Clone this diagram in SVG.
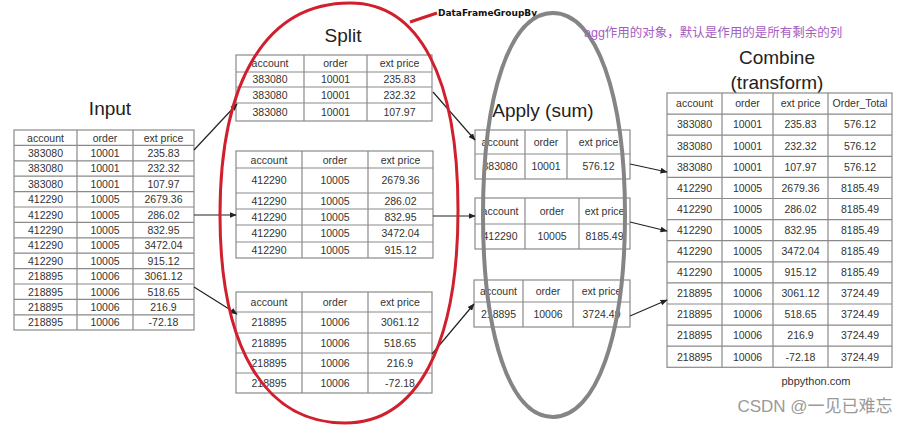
<svg xmlns="http://www.w3.org/2000/svg" width="914" height="425" viewBox="0 0 914 425">
<style>
.t{font-family:"Liberation Sans",Arial,sans-serif;font-size:10.5px;fill:#333;text-anchor:middle}
.h{font-family:"Liberation Sans",Arial,sans-serif;font-size:19px;fill:#222;text-anchor:middle}
.g{fill:#fff;stroke:#8a8a8a;stroke-width:1.2}
.l{stroke:#8a8a8a;stroke-width:1.2;fill:none}
.c{stroke:#222;stroke-width:1.2;fill:none;marker-end:url(#a)}
</style>
<defs>
<marker id="a" viewBox="0 0 10 10" refX="9" refY="5" markerWidth="6" markerHeight="6" orient="auto"><path d="M0,1 L10,5 L0,9 z" fill="#222"/></marker>
</defs>
<rect width="914" height="425" fill="#fff"/>

<g id="input">
<text class="h" x="110" y="115">Input</text>
<rect class="g" x="14" y="130" width="180" height="200"/>
<path class="l" d="M77,130V330M133,130V330M14,145.4H194M14,160.8H194M14,176.2H194M14,191.6H194M14,207H194M14,222.4H194M14,237.8H194M14,253.2H194M14,268.6H194M14,284H194M14,299.4H194M14,314.8H194"/>
<g class="t">
<text x="45.5" y="141.5">account</text><text x="105" y="141.5">order</text><text x="163.5" y="141.5">ext price</text>
<text x="45.5" y="156.9">383080</text><text x="105" y="156.9">10001</text><text x="163.5" y="156.9">235.83</text>
<text x="45.5" y="172.3">383080</text><text x="105" y="172.3">10001</text><text x="163.5" y="172.3">232.32</text>
<text x="45.5" y="187.7">383080</text><text x="105" y="187.7">10001</text><text x="163.5" y="187.7">107.97</text>
<text x="45.5" y="203.1">412290</text><text x="105" y="203.1">10005</text><text x="163.5" y="203.1">2679.36</text>
<text x="45.5" y="218.5">412290</text><text x="105" y="218.5">10005</text><text x="163.5" y="218.5">286.02</text>
<text x="45.5" y="233.9">412290</text><text x="105" y="233.9">10005</text><text x="163.5" y="233.9">832.95</text>
<text x="45.5" y="249.3">412290</text><text x="105" y="249.3">10005</text><text x="163.5" y="249.3">3472.04</text>
<text x="45.5" y="264.7">412290</text><text x="105" y="264.7">10005</text><text x="163.5" y="264.7">915.12</text>
<text x="45.5" y="280.1">218895</text><text x="105" y="280.1">10006</text><text x="163.5" y="280.1">3061.12</text>
<text x="45.5" y="295.5">218895</text><text x="105" y="295.5">10006</text><text x="163.5" y="295.5">518.65</text>
<text x="45.5" y="310.9">218895</text><text x="105" y="310.9">10006</text><text x="163.5" y="310.9">216.9</text>
<text x="45.5" y="326.3">218895</text><text x="105" y="326.3">10006</text><text x="163.5" y="326.3">-72.18</text>
</g>
</g>

<g id="split">
<text class="h" x="343" y="42">Split</text>
<rect class="g" x="236" y="55" width="196" height="66"/>
<path class="l" d="M304,55V121M367,55V121M236,72H432M236,87H432M236,103H432"/>
<g class="t">
<text x="270" y="67">account</text><text x="335.5" y="67">order</text><text x="399.5" y="67">ext price</text>
<text x="270" y="83">383080</text><text x="335.5" y="83">10001</text><text x="399.5" y="83">235.83</text>
<text x="270" y="99">383080</text><text x="335.5" y="99">10001</text><text x="399.5" y="99">232.32</text>
<text x="270" y="116">383080</text><text x="335.5" y="116">10001</text><text x="399.5" y="116">107.97</text>
</g>
<rect class="g" x="236" y="151" width="197" height="107"/>
<path class="l" d="M302,151V258M368,151V258M236,168H433M236,193H433M236,209H433M236,225H433M236,242H433"/>
<g class="t">
<text x="269" y="163.5">account</text><text x="335" y="163.5">order</text><text x="400.5" y="163.5">ext price</text>
<text x="269" y="184">412290</text><text x="335" y="184">10005</text><text x="400.5" y="184">2679.36</text>
<text x="269" y="204.5">412290</text><text x="335" y="204.5">10005</text><text x="400.5" y="204.5">286.02</text>
<text x="269" y="220.5">412290</text><text x="335" y="220.5">10005</text><text x="400.5" y="220.5">832.95</text>
<text x="269" y="237">412290</text><text x="335" y="237">10005</text><text x="400.5" y="237">3472.04</text>
<text x="269" y="253.5">412290</text><text x="335" y="253.5">10005</text><text x="400.5" y="253.5">915.12</text>
</g>
<rect class="g" x="236" y="292" width="196" height="101"/>
<path class="l" d="M302,292V393M368,292V393M236,312H432M236,333H432M236,353H432M236,373H432"/>
<g class="t">
<text x="269" y="305.5">account</text><text x="335" y="305.5">order</text><text x="400" y="305.5">ext price</text>
<text x="269" y="326">218895</text><text x="335" y="326">10006</text><text x="400" y="326">3061.12</text>
<text x="269" y="346.5">218895</text><text x="335" y="346.5">10006</text><text x="400" y="346.5">518.65</text>
<text x="269" y="366.5">218895</text><text x="335" y="366.5">10006</text><text x="400" y="366.5">216.9</text>
<text x="269" y="386.5">218895</text><text x="335" y="386.5">10006</text><text x="400" y="386.5">-72.18</text>
</g>
</g>

<g id="apply">
<text class="h" x="543" y="117">Apply (sum)</text>
<rect class="g" x="475" y="130" width="155" height="49"/>
<path class="l" d="M525,130V179M567,130V179M475,154H630"/>
<g class="t">
<text x="500" y="146">account</text><text x="546" y="146">order</text><text x="598.5" y="146">ext price</text>
<text x="500" y="170">383080</text><text x="546" y="170">10001</text><text x="598.5" y="170">576.12</text>
</g>
<rect class="g" x="475" y="198" width="155" height="51"/>
<path class="l" d="M525,198V249M579,198V249M475,224H630"/>
<g class="t">
<text x="500" y="215">account</text><text x="552" y="215">order</text><text x="604.5" y="215">ext price</text>
<text x="500" y="240">412290</text><text x="552" y="240">10005</text><text x="604.5" y="240">8185.49</text>
</g>
<rect class="g" x="474" y="280" width="156" height="47"/>
<path class="l" d="M523,280V327M573,280V327M474,302H630"/>
<g class="t">
<text x="498.5" y="295">account</text><text x="548" y="295">order</text><text x="601.5" y="295">ext price</text>
<text x="498.5" y="318">218895</text><text x="548" y="318">10006</text><text x="601.5" y="318">3724.49</text>
</g>
</g>

<g id="combine">
<text class="h" x="777" y="64">Combine</text>
<text class="h" x="777" y="89">(transform)</text>
<rect class="g" x="667" y="93" width="225" height="274.3"/>
<path class="l" d="M722,93V367.3M773,93V367.3M828,93V367.3M667,114.1H892M667,135.2H892M667,156.3H892M667,177.4H892M667,198.5H892M667,219.6H892M667,240.7H892M667,261.8H892M667,282.9H892M667,304H892M667,325.1H892M667,346.2H892"/>
<g class="t">
<text x="694.5" y="107.3">account</text><text x="747.5" y="107.3">order</text><text x="800.5" y="107.3">ext price</text><text x="860" y="107.3">Order_Total</text>
<text x="694.5" y="128.4">383080</text><text x="747.5" y="128.4">10001</text><text x="800.5" y="128.4">235.83</text><text x="860" y="128.4">576.12</text>
<text x="694.5" y="149.5">383080</text><text x="747.5" y="149.5">10001</text><text x="800.5" y="149.5">232.32</text><text x="860" y="149.5">576.12</text>
<text x="694.5" y="170.6">383080</text><text x="747.5" y="170.6">10001</text><text x="800.5" y="170.6">107.97</text><text x="860" y="170.6">576.12</text>
<text x="694.5" y="191.7">412290</text><text x="747.5" y="191.7">10005</text><text x="800.5" y="191.7">2679.36</text><text x="860" y="191.7">8185.49</text>
<text x="694.5" y="212.8">412290</text><text x="747.5" y="212.8">10005</text><text x="800.5" y="212.8">286.02</text><text x="860" y="212.8">8185.49</text>
<text x="694.5" y="233.9">412290</text><text x="747.5" y="233.9">10005</text><text x="800.5" y="233.9">832.95</text><text x="860" y="233.9">8185.49</text>
<text x="694.5" y="255">412290</text><text x="747.5" y="255">10005</text><text x="800.5" y="255">3472.04</text><text x="860" y="255">8185.49</text>
<text x="694.5" y="276.1">412290</text><text x="747.5" y="276.1">10005</text><text x="800.5" y="276.1">915.12</text><text x="860" y="276.1">8185.49</text>
<text x="694.5" y="297.2">218895</text><text x="747.5" y="297.2">10006</text><text x="800.5" y="297.2">3061.12</text><text x="860" y="297.2">3724.49</text>
<text x="694.5" y="318.3">218895</text><text x="747.5" y="318.3">10006</text><text x="800.5" y="318.3">518.65</text><text x="860" y="318.3">3724.49</text>
<text x="694.5" y="339.4">218895</text><text x="747.5" y="339.4">10006</text><text x="800.5" y="339.4">216.9</text><text x="860" y="339.4">3724.49</text>
<text x="694.5" y="360.5">218895</text><text x="747.5" y="360.5">10006</text><text x="800.5" y="360.5">-72.18</text><text x="860" y="360.5">3724.49</text>
</g>
<text x="816" y="385" style="font-family:'Liberation Sans',Arial,sans-serif;font-size:11px;fill:#333;text-anchor:middle">pbpython.com</text>
</g>

<g id="connectors">
<path class="c" d="M194,150L237,104"/>
<path class="c" d="M194,215H236"/>
<path class="c" d="M194,287L237,314"/>
<path class="c" d="M433,92L475,140"/>
<path class="c" d="M433,216H475"/>
<path class="c" d="M432,354L474,304"/>
<path class="c" d="M630,164L667,172"/>
<path class="c" d="M630,222L667,231"/>
<path class="c" d="M630,316L667,300"/>
</g>

<g id="annotations">
<path d="M350,3C419,3 458,77 458,210C458,346 417,423 345,423C265,423 220,348 220,215C220,79 267,3 350,3Z" fill="none" stroke="#d0202e" stroke-width="3"/>
<path d="M410,22L437,13" stroke="#d0202e" stroke-width="3" fill="none"/>
<text x="438" y="16" style="font-family:'DejaVu Sans',sans-serif;font-size:9px;font-weight:bold;fill:#111">DataFrameGroupBy</text>
<path d="M553,13C596,13 625,94 625,215C625,336 596,417 553,417C510,417 483,336 483,215C483,94 510,13 553,13Z" fill="none" stroke="#858585" stroke-width="4"/>
<text x="584" y="37" style="font-family:'Liberation Sans','Noto Sans CJK SC',sans-serif;font-size:12.5px;fill:#a45cc4">agg作用的对象，默认是作用的是所有剩余的列</text>
<text x="815" y="412" style="font-family:'Liberation Sans','Noto Sans CJK SC',sans-serif;font-size:17px;fill:#9a9a9a;text-anchor:middle">CSDN @一见已难忘</text>
</g>
</svg>
